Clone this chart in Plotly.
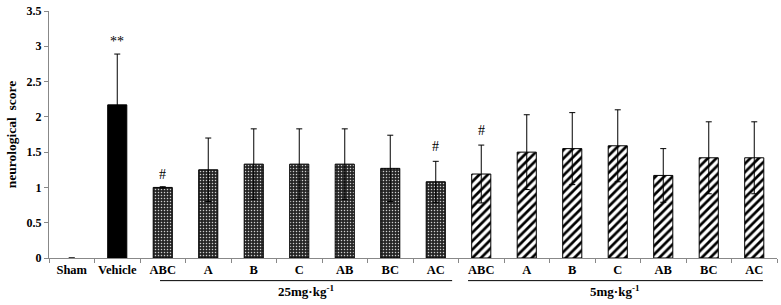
import plotly.graph_objects as go

categories = ["Sham", "Vehicle", "ABC", "A", "B", "C", "AB", "BC", "AC",
              "ABC ", "A ", "B ", "C ", "AB ", "BC ", "AC "]
tick_labels = ["Sham", "Vehicle", "ABC", "A", "B", "C", "AB", "BC", "AC",
               "ABC", "A", "B", "C", "AB", "BC", "AC"]

ctrl_cats = categories[0:2]
ctrl_vals = [0.0, 2.17]
ctrl_err = [0.0, 0.72]

g25_cats = categories[2:9]
g25_vals = [1.00, 1.25, 1.33, 1.33, 1.33, 1.27, 1.08]
g25_err = [0.01, 0.45, 0.50, 0.50, 0.50, 0.47, 0.29]

g5_cats = categories[9:16]
g5_vals = [1.19, 1.50, 1.55, 1.59, 1.17, 1.42, 1.42]
g5_err = [0.41, 0.53, 0.51, 0.51, 0.38, 0.51, 0.51]

marks = [("Vehicle", 3.07, "**"), ("ABC", 1.19, "#"), ("AC", 1.58, "#"), ("ABC ", 1.80, "#")]
groups = [("25mg·kg<sup>-1</sup>", 1.94, 8.36), ("5mg·kg<sup>-1</sup>", 8.71, 15.19)]

FONT = "Liberation Serif, Times New Roman, serif"
err_style = dict(type="data", symmetric=True, color="black", thickness=1, width=3)

fig = go.Figure()
fig.add_trace(go.Bar(x=ctrl_cats, y=ctrl_vals, width=0.42,
                     error_y=dict(array=ctrl_err, **err_style),
                     marker=dict(color="black", line=dict(color="black", width=[0, 1]))))
fig.add_trace(go.Bar(x=g25_cats, y=g25_vals, width=0.42,
                     error_y=dict(array=g25_err, **err_style),
                     marker=dict(color="#2a2a2a", line=dict(color="black", width=1),
                                 pattern=dict(shape=".", fgcolor="#cfcfcf", bgcolor="#262626",
                                              size=3, solidity=0.2, fillmode="replace"))))
fig.add_trace(go.Bar(x=g5_cats, y=g5_vals, width=0.42,
                     error_y=dict(array=g5_err, **err_style),
                     marker=dict(color="white", line=dict(color="black", width=1),
                                 pattern=dict(shape="/", fgcolor="black", bgcolor="white",
                                              size=6, solidity=0.45, fillmode="replace"))))

for cat, yv, txt in marks:
    fig.add_annotation(x=cat, y=yv, text=txt, showarrow=False,
                       font=dict(family=FONT, size=14, color="black"))

for label, x0, x1 in groups:
    fig.add_shape(type="line", xref="x", yref="paper", x0=x0, x1=x1, y0=-0.0916, y1=-0.0916,
                  line=dict(color="black", width=1))
    fig.add_annotation(xref="x", yref="paper", x=(x0 + x1) / 2, y=-0.093, yanchor="top",
                       text="<b>" + label + "</b>",
                       showarrow=False, font=dict(family=FONT, size=13, color="black"))

fig.update_layout(
    width=781, height=305,
    margin=dict(l=49, r=4, t=7, b=47),
    barmode="overlay", showlegend=False,
    plot_bgcolor="white", paper_bgcolor="white",
    font=dict(family=FONT, size=12, color="black"),
)
fig.update_xaxes(
    type="category", categoryorder="array", categoryarray=categories,
    tickvals=categories, ticktext=["<b>" + t + "</b>" for t in tick_labels],
    tickson="boundaries", ticks="outside", ticklen=4, tickcolor="#888", tickangle=0,
    showline=True, linecolor="#888", linewidth=1, showgrid=False,
    tickfont=dict(family=FONT, size=12.5, color="black"),
    range=[-0.5, 15.5],
)
fig.update_yaxes(
    range=[0, 3.5], tickvals=[0, 0.5, 1, 1.5, 2, 2.5, 3, 3.5],
    ticktext=["<b>%g</b>" % v for v in [0, 0.5, 1, 1.5, 2, 2.5, 3, 3.5]],
    ticks="outside", ticklen=4, tickcolor="#888",
    showline=True, linecolor="#888", linewidth=1, showgrid=False, zeroline=False,
    tickfont=dict(family=FONT, size=12, color="black"),
    title=dict(text="<b>neurological  score</b>", font=dict(family=FONT, size=13.5, color="black"), standoff=6),
)

fig.write_html("out.html", config={"displayModeBar": False},
               post_script="document.body.style.margin='0';")
